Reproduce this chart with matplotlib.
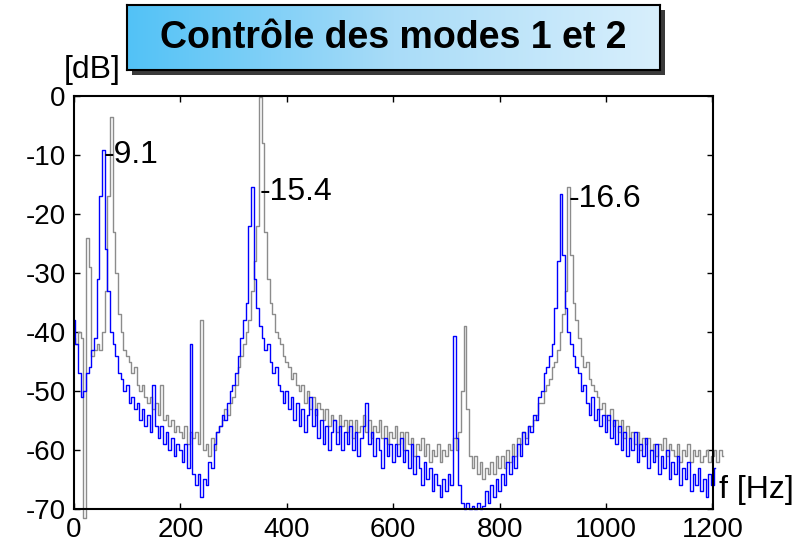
import numpy as np
import matplotlib.pyplot as plt
from matplotlib.patches import Rectangle

plt.rcParams['font.family'] = ['Liberation Sans', 'DejaVu Sans']
plt.rcParams['axes.unicode_minus'] = False

# Spectre en dB, pas de 5 Hz
# sans contrôle (gris), 0 .. 1220 Hz
sans_controle = [
    -41, -42, -40, -41, -71.5, -24, -29, -44, -43, -42, -43, -40, -33, -17, -3.5, -23, -30, -37, -40, -43,
    -44, -45, -47, -46, -49, -50, -49, -51, -52, -51, -53, -52, -54, -49, -55, -54, -56, -55, -57, -56,
    -57, -58, -56, -59, -57, -58, -57, -59, -38, -60, -59, -61, -58, -60, -57, -56, -55, -53, -54, -52,
    -51, -49, -46, -44, -42, -40, -38, -33, -28, -22, -0.2, -8, -23, -31, -35, -37, -40, -41, -42, -44,
    -45, -46, -48, -47, -49, -50, -49, -52, -50, -53, -51, -54, -52, -53, -55, -53, -56, -54, -55, -57,
    -54, -56, -55, -57, -55, -58, -55, -57, -56, -54, -57, -55, -58, -56, -57, -55, -58, -56, -59, -57,
    -58, -56, -59, -57, -60, -57, -59, -58, -61, -59, -60, -58, -61, -59, -62, -60, -61, -59, -62, -60,
    -61, -59, -60, -58, -60, -57, -50, -39, -53, -61, -63, -61, -64, -62, -65, -63, -64, -62, -64, -61,
    -63, -61, -63, -60, -62, -59, -61, -58, -59, -57, -58, -56, -56, -55, -54, -52, -52, -50, -49, -48,
    -46, -45, -43, -40, -37, -33, -15.5, -27, -35, -38, -41, -44, -46, -45, -48, -49, -50, -51, -53, -52,
    -54, -55, -53, -56, -55, -57, -55, -58, -56, -58, -57, -59, -57, -60, -58, -59, -58, -60, -59, -61,
    -59, -60, -58, -61, -59, -60, -61, -59, -62, -60, -61, -59, -62, -60, -61, -60, -62, -61, -60, -62,
    -61, -60, -62, -60, -61,
]
# avec contrôle des modes 1 et 2 (bleu), 0 .. 1205 Hz
avec_controle = [
    -38, -42, -47, -51, -50, -47, -46, -43, -41, -31, -17, -9.1, -26, -33, -40, -42, -44, -47, -48, -50,
    -49, -52, -51, -53, -52, -55, -53, -56, -54, -57, -49, -56, -58, -56, -59, -57, -60, -58, -61, -59,
    -60, -62, -59, -63, -42, -64, -66, -64, -68, -65, -66, -62, -63, -59, -57, -56, -54, -55, -52, -50,
    -49, -47, -44, -41, -38, -35, -22, -15.4, -31, -36, -39, -41, -43, -42, -45, -47, -46, -49, -50, -52,
    -50, -53, -51, -55, -52, -56, -53, -57, -54, -51, -56, -53, -58, -55, -59, -56, -60, -57, -55, -59,
    -56, -60, -57, -59, -56, -60, -57, -61, -58, -56, -52, -59, -57, -61, -58, -60, -63, -58, -61, -59,
    -62, -59, -61, -58, -62, -60, -63, -59, -64, -61, -63, -66, -62, -65, -63, -67, -64, -66, -68, -65,
    -67, -64, -66, -40.7, -58, -66, -69, -70, -69, -70, -69.5, -70, -69, -70, -69.5, -67, -69, -66, -68, -65,
    -67, -64, -66, -62, -64, -61, -63, -59, -61, -57, -59, -56, -57, -54, -55, -51, -50, -47, -46, -44,
    -42, -36, -28, -16.6, -27, -36, -40, -42, -44, -46, -47, -50, -49, -52, -54, -51, -55, -53, -56, -54,
    -57, -54, -58, -55, -59, -56, -60, -57, -61, -58, -60, -57, -62, -59, -61, -58, -63, -60, -62, -59,
    -64, -61, -63, -60, -65, -62, -64, -61, -66, -63, -65, -62, -67, -64, -66, -63, -67, -65, -68, -64,
    -66, -63,
]
f_sans = np.arange(len(sans_controle)) * 5
f_avec = np.arange(len(avec_controle)) * 5

# pics annotés : (fréquence du texte, niveau en dB)
pics = [(55, -9.1), (348, -15.4), (930, -16.6)]

x_ticks = [0, 200, 400, 600, 800, 1000, 1200]
y_ticks = [0, -10, -20, -30, -40, -50, -60, -70]

fig = plt.figure(figsize=(7.94, 5.47), dpi=100)
ax = fig.add_axes([74 / 794, 38 / 547, 639 / 794, 413 / 547])

ax.plot(f_sans, sans_controle, color='#8c8c8c', lw=1.0, drawstyle='steps-mid', clip_on=False)
ax.plot(f_avec, avec_controle, color='#0000ff', lw=1.0, drawstyle='steps-mid', clip_on=False)

for f_txt, niveau in pics:
    ax.text(f_txt, niveau - 0.9, '%g' % niveau, fontsize=23, ha='left', va='center')

ax.set_xlim(0, 1201)
ax.set_ylim(-70, 0)
ax.set_xticks(x_ticks)
ax.set_yticks(y_ticks)
ax.tick_params(direction='in', length=4, width=1, top=True, right=True,
               labelsize=20, pad=6)
for s in ax.spines.values():
    s.set_linewidth(1.5)

fig.text(92 / 794, 1 - 70 / 547, '[dB]', fontsize=23, ha='center', va='center')
fig.text(756 / 794, 1 - 490 / 547, 'f [Hz]', fontsize=23, ha='center', va='center')

# cadre du titre avec dégradé et ombre
bx, by, bw, bh = 127 / 794, 1 - 70 / 547, 533 / 794, 65 / 547
fig.patches.append(Rectangle((bx + 5 / 794, by - 5 / 547), bw, bh, transform=fig.transFigure,
                             facecolor='#3a3a3a', edgecolor='none', zorder=1))
tax = fig.add_axes([bx, by, bw, bh], zorder=2)
grad = np.linspace(0, 1, 256)[None, :]
from matplotlib.colors import LinearSegmentedColormap
cmap = LinearSegmentedColormap.from_list('titre', ['#52c2f6', '#a9dcf8', '#d8effc'])
tax.imshow(grad, aspect='auto', cmap=cmap, extent=[0, 1, 0, 1])
tax.set_xticks([])
tax.set_yticks([])
for s in tax.spines.values():
    s.set_linewidth(1.5)
tax.text(0.5, 0.5, 'Contrôle des modes 1 et 2', fontsize=27, fontweight='bold',
         ha='center', va='center', transform=tax.transAxes)

fig.savefig('out.png', dpi=100)
